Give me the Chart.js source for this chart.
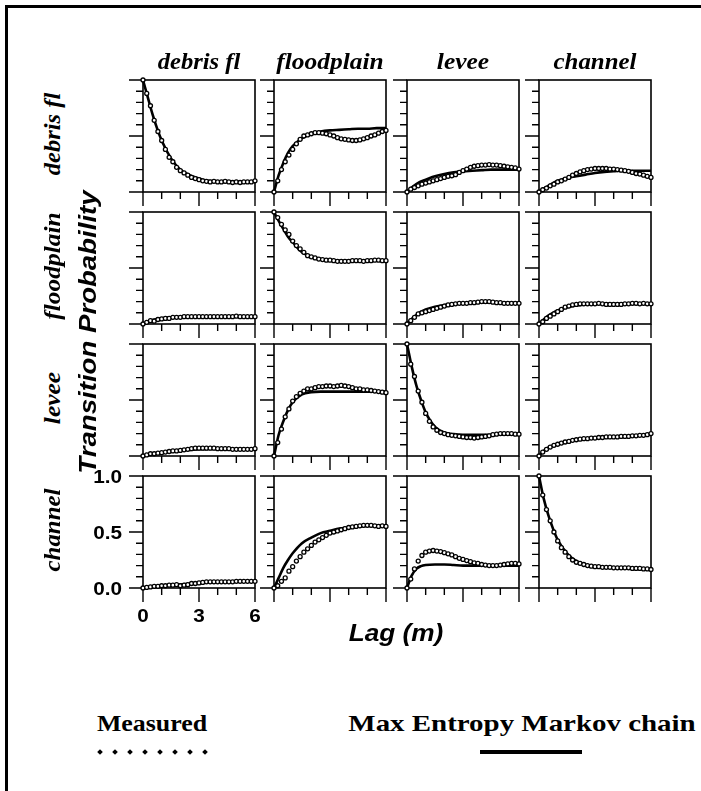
<!DOCTYPE html>
<html>
<head>
<meta charset="utf-8">
<script src="https://cdn.jsdelivr.net/npm/chart.js@4.4.1/dist/chart.umd.min.js"></script>
<style>
html, body { margin: 0; padding: 0; background: #fff; }
#page { position: relative; width: 701px; height: 791px; overflow: hidden; background: #fff; }
#frame { position: absolute; left: 5px; top: 5px; width: 720px; height: 800px; border-top: 3px solid #000; border-left: 3px solid #000; }
canvas { position: absolute; }
.lbl { position: absolute; white-space: nowrap; transform-origin: 0 0; line-height: 1; color: #000; }
.serif { font: italic bold 24px "Liberation Serif", "Times New Roman", serif; }
.sans { font: italic bold 24px "Liberation Sans", Arial, sans-serif; }
.leg { font: bold 24px "Liberation Serif", "Times New Roman", serif; }
.dot { position: absolute; width: 4px; height: 4px; background: #000; transform: rotate(45deg); }
</style>
</head>
<body>
<div id="page"><div id="frame"></div></div>
<script>
// facies, rows = from, columns = to
const facies = ['debris fl', 'floodplain', 'levee', 'channel'];

const lagMeasured = [0, 0.2, 0.4, 0.6, 0.8, 1, 1.2, 1.4, 1.6, 1.8, 2, 2.2, 2.4, 2.6, 2.8, 3,
  3.2, 3.4, 3.6, 3.8, 4, 4.2, 4.4, 4.6, 4.8, 5, 5.2, 5.4, 5.6, 5.8, 6];
const lagMarkov = [0, 0.25, 0.5, 0.75, 1, 1.5, 2, 2.5, 3, 3.5, 4, 4.5, 5, 5.5, 6];

const yTickValues = [0, 0.1, 0.2, 0.3, 0.4, 0.5, 0.6, 0.7, 0.8, 0.9, 1];
const yMajor = [0, 0.5, 1];
const xTickValues = [0, 1, 2, 3, 4, 5, 6];
const xMajor = [0, 3, 6];
const yTickLabels = ['0.0', '0.5', '1.0'];
const xTickLabels = ['0', '3', '6'];

// measured transition probabilities (to debris fl, floodplain, levee, channel)
const measuredFromDebris = [
  [1.0, 0.88, 0.77, 0.64, 0.54, 0.46, 0.38, 0.31, 0.27, 0.22, 0.19, 0.17, 0.15, 0.13, 0.12, 0.11, 0.10, 0.095, 0.09, 0.095, 0.09, 0.09, 0.095, 0.09, 0.085, 0.09, 0.085, 0.09, 0.09, 0.09, 0.10],
  [0, 0.10, 0.20, 0.27, 0.33, 0.38, 0.43, 0.47, 0.50, 0.51, 0.52, 0.53, 0.53, 0.525, 0.52, 0.51, 0.50, 0.485, 0.475, 0.47, 0.465, 0.46, 0.46, 0.465, 0.475, 0.485, 0.50, 0.51, 0.525, 0.54, 0.55],
  [0, 0.025, 0.04, 0.055, 0.07, 0.08, 0.09, 0.10, 0.11, 0.12, 0.13, 0.14, 0.145, 0.155, 0.175, 0.19, 0.205, 0.22, 0.23, 0.235, 0.24, 0.24, 0.245, 0.24, 0.24, 0.235, 0.23, 0.225, 0.22, 0.215, 0.205],
  [0, 0.02, 0.035, 0.055, 0.07, 0.09, 0.10, 0.115, 0.13, 0.15, 0.165, 0.18, 0.19, 0.20, 0.205, 0.21, 0.21, 0.21, 0.21, 0.205, 0.205, 0.20, 0.195, 0.19, 0.185, 0.175, 0.165, 0.16, 0.15, 0.14, 0.13]
];
const measuredFromFloodplain = [
  [0, 0.015, 0.03, 0.025, 0.04, 0.045, 0.05, 0.05, 0.06, 0.06, 0.06, 0.065, 0.065, 0.065, 0.065, 0.065, 0.065, 0.065, 0.065, 0.065, 0.065, 0.065, 0.065, 0.065, 0.065, 0.07, 0.065, 0.065, 0.065, 0.065, 0.065],
  [1.0, 0.95, 0.89, 0.84, 0.80, 0.74, 0.70, 0.67, 0.64, 0.61, 0.60, 0.59, 0.58, 0.575, 0.57, 0.57, 0.565, 0.56, 0.56, 0.56, 0.56, 0.565, 0.565, 0.565, 0.56, 0.565, 0.565, 0.57, 0.57, 0.565, 0.565],
  [0, 0.03, 0.06, 0.09, 0.10, 0.11, 0.12, 0.13, 0.14, 0.15, 0.16, 0.17, 0.175, 0.18, 0.185, 0.185, 0.185, 0.19, 0.19, 0.195, 0.20, 0.20, 0.20, 0.195, 0.19, 0.19, 0.185, 0.185, 0.185, 0.185, 0.185],
  [0, 0.02, 0.05, 0.07, 0.09, 0.11, 0.13, 0.15, 0.16, 0.17, 0.175, 0.18, 0.18, 0.18, 0.18, 0.18, 0.185, 0.18, 0.175, 0.175, 0.175, 0.175, 0.175, 0.18, 0.18, 0.185, 0.185, 0.18, 0.185, 0.18, 0.18]
];
const measuredFromLevee = [
  [0, 0.01, 0.02, 0.02, 0.025, 0.03, 0.035, 0.04, 0.045, 0.045, 0.05, 0.055, 0.06, 0.065, 0.07, 0.07, 0.07, 0.07, 0.07, 0.07, 0.065, 0.065, 0.065, 0.065, 0.06, 0.06, 0.06, 0.06, 0.06, 0.06, 0.065],
  [0, 0.12, 0.24, 0.35, 0.42, 0.49, 0.53, 0.56, 0.58, 0.60, 0.60, 0.61, 0.62, 0.62, 0.625, 0.625, 0.62, 0.625, 0.63, 0.625, 0.62, 0.61, 0.60, 0.60, 0.59, 0.59, 0.585, 0.58, 0.575, 0.57, 0.565],
  [1.0, 0.82, 0.71, 0.58, 0.48, 0.38, 0.31, 0.26, 0.23, 0.21, 0.20, 0.19, 0.185, 0.18, 0.175, 0.17, 0.165, 0.165, 0.16, 0.165, 0.17, 0.175, 0.18, 0.19, 0.195, 0.20, 0.20, 0.20, 0.20, 0.195, 0.195],
  [0, 0.035, 0.06, 0.08, 0.095, 0.105, 0.115, 0.125, 0.13, 0.14, 0.145, 0.15, 0.155, 0.155, 0.16, 0.16, 0.165, 0.165, 0.17, 0.17, 0.17, 0.17, 0.175, 0.175, 0.175, 0.18, 0.18, 0.185, 0.185, 0.19, 0.20]
];
const measuredFromChannel = [
  [0, 0.005, 0.01, 0.015, 0.015, 0.02, 0.02, 0.025, 0.025, 0.03, 0.02, 0.025, 0.03, 0.04, 0.04, 0.045, 0.05, 0.055, 0.055, 0.055, 0.055, 0.055, 0.055, 0.055, 0.055, 0.06, 0.06, 0.06, 0.06, 0.06, 0.06],
  [0, 0.02, 0.06, 0.09, 0.15, 0.19, 0.24, 0.28, 0.32, 0.35, 0.38, 0.41, 0.43, 0.45, 0.47, 0.49, 0.50, 0.51, 0.52, 0.53, 0.54, 0.545, 0.55, 0.555, 0.56, 0.56, 0.56, 0.555, 0.55, 0.555, 0.55],
  [0, 0.08, 0.17, 0.24, 0.29, 0.32, 0.33, 0.335, 0.33, 0.325, 0.315, 0.305, 0.295, 0.28, 0.265, 0.255, 0.245, 0.235, 0.225, 0.22, 0.21, 0.205, 0.20, 0.20, 0.20, 0.205, 0.21, 0.215, 0.22, 0.22, 0.215],
  [1.0, 0.83, 0.70, 0.60, 0.50, 0.42, 0.36, 0.32, 0.28, 0.25, 0.23, 0.22, 0.21, 0.20, 0.195, 0.19, 0.19, 0.185, 0.185, 0.185, 0.18, 0.18, 0.18, 0.18, 0.18, 0.175, 0.175, 0.175, 0.17, 0.17, 0.165]
];

// max entropy markov chain model
const markovFromDebris = [
  [1.0, 0.85, 0.70, 0.57, 0.46, 0.30, 0.20, 0.15, 0.12, 0.10, 0.095, 0.09, 0.09, 0.09, 0.09],
  [0, 0.15, 0.26, 0.35, 0.41, 0.48, 0.52, 0.54, 0.55, 0.555, 0.56, 0.565, 0.565, 0.57, 0.57],
  [0, 0.04, 0.07, 0.095, 0.11, 0.14, 0.16, 0.175, 0.185, 0.19, 0.195, 0.20, 0.20, 0.20, 0.20],
  [0, 0.03, 0.055, 0.08, 0.10, 0.125, 0.14, 0.155, 0.17, 0.18, 0.185, 0.19, 0.19, 0.19, 0.19]
];
const markovFromFloodplain = [
  [0, 0.02, 0.035, 0.045, 0.052, 0.06, 0.063, 0.065, 0.065, 0.065, 0.065, 0.065, 0.065, 0.065, 0.065],
  [1.0, 0.92, 0.85, 0.78, 0.73, 0.64, 0.60, 0.58, 0.57, 0.565, 0.565, 0.565, 0.565, 0.565, 0.565],
  [0, 0.045, 0.08, 0.11, 0.13, 0.155, 0.17, 0.18, 0.185, 0.19, 0.19, 0.19, 0.19, 0.19, 0.19],
  [0, 0.04, 0.075, 0.10, 0.12, 0.15, 0.165, 0.175, 0.18, 0.18, 0.18, 0.18, 0.18, 0.18, 0.18]
];
const markovFromLevee = [
  [0, 0.01, 0.02, 0.025, 0.03, 0.04, 0.05, 0.055, 0.06, 0.062, 0.063, 0.063, 0.063, 0.063, 0.063],
  [0, 0.19, 0.31, 0.41, 0.48, 0.55, 0.57, 0.575, 0.575, 0.575, 0.575, 0.575, 0.575, 0.575, 0.575],
  [1.0, 0.80, 0.63, 0.50, 0.39, 0.26, 0.21, 0.195, 0.19, 0.19, 0.19, 0.19, 0.19, 0.19, 0.19],
  [0, 0.045, 0.075, 0.095, 0.11, 0.13, 0.145, 0.155, 0.165, 0.17, 0.175, 0.178, 0.18, 0.185, 0.19]
];
const markovFromChannel = [
  [0, 0.005, 0.01, 0.015, 0.02, 0.025, 0.03, 0.038, 0.045, 0.05, 0.053, 0.056, 0.058, 0.06, 0.06],
  [0, 0.09, 0.18, 0.25, 0.31, 0.40, 0.45, 0.49, 0.51, 0.53, 0.54, 0.55, 0.555, 0.555, 0.555],
  [0, 0.11, 0.17, 0.195, 0.205, 0.21, 0.21, 0.205, 0.20, 0.20, 0.20, 0.20, 0.20, 0.20, 0.20],
  [1.0, 0.80, 0.65, 0.53, 0.43, 0.31, 0.24, 0.205, 0.19, 0.185, 0.18, 0.18, 0.175, 0.17, 0.165]
];

const measuredRows = [measuredFromDebris, measuredFromFloodplain, measuredFromLevee, measuredFromChannel];
const markovRows = [markovFromDebris, markovFromFloodplain, markovFromLevee, markovFromChannel];

// layout of the 4x4 grid
const colLeft = [143, 274, 407, 539];
const rowTop = [80, 212, 344, 476];
const box = 112;

const page = document.getElementById('page');

// box, outside ticks, and tick labels for the bottom-left panel
const framePlugin = {
  id: 'frame',
  beforeDatasetsDraw(chart, args, opts) {
    const { ctx, chartArea: a, scales: { x, y } } = chart;
    ctx.save();
    ctx.strokeStyle = '#000';
    ctx.lineWidth = 1.6;
    ctx.strokeRect(a.left, a.top, a.right - a.left, a.bottom - a.top);
    ctx.lineWidth = 1.4;
    ctx.beginPath();
    yTickValues.forEach(v => {
      const p = y.getPixelForValue(v);
      const len = yMajor.includes(v) ? 14 : 7;
      ctx.moveTo(a.left - len, p);
      ctx.lineTo(a.left, p);
    });
    xTickValues.forEach(v => {
      const p = x.getPixelForValue(v);
      const len = xMajor.includes(v) ? 14 : 7;
      ctx.moveTo(p, a.bottom);
      ctx.lineTo(p, a.bottom + len);
    });
    ctx.stroke();
    if (opts.labels) {
      ctx.fillStyle = '#000';
      ctx.font = 'bold 18px "Liberation Sans", Arial, sans-serif';
      ctx.textBaseline = 'alphabetic';
      ctx.textAlign = 'right';
      yTickLabels.forEach((t, i) => {
        const p = y.getPixelForValue(yMajor[i]);
        ctx.save();
        ctx.translate(a.left - 21, p + 6.5);
        ctx.scale(1.15, 1);
        ctx.fillText(t, 0, 0);
        ctx.restore();
      });
      ctx.textAlign = 'center';
      xTickLabels.forEach((t, i) => {
        const p = x.getPixelForValue(xMajor[i]);
        ctx.save();
        ctx.translate(p, a.bottom + 34);
        ctx.scale(1.15, 1);
        ctx.fillText(t, 0, 0);
        ctx.restore();
      });
    }
    ctx.restore();
  }
};

function makePanel(r, c) {
  const labels = (r === 3 && c === 0);
  const pad = labels ? { left: 56, right: 8, top: 8, bottom: 42 } : { left: 20, right: 8, top: 8, bottom: 20 };
  const cv = document.createElement('canvas');
  cv.width = pad.left + box + pad.right;
  cv.height = pad.top + box + pad.bottom;
  cv.style.left = (colLeft[c] - pad.left) + 'px';
  cv.style.top = (rowTop[r] - pad.top) + 'px';
  page.appendChild(cv);
  const meas = measuredRows[r][c];
  const mark = markovRows[r][c];
  new Chart(cv, {
    type: 'line',
    data: {
      datasets: [
        {
          label: 'Measured',
          data: lagMeasured.map((x, i) => ({ x, y: meas[i] })),
          showLine: false,
          pointRadius: 2,
          pointBorderWidth: 1.3,
          pointBorderColor: '#000',
          pointBackgroundColor: '#fff',
          clip: false
        },
        {
          label: 'Max Entropy Markov chain',
          data: lagMarkov.map((x, i) => ({ x, y: mark[i] })),
          borderColor: '#000',
          borderWidth: 2.6,
          pointRadius: 0,
          cubicInterpolationMode: 'monotone',
          clip: false
        }
      ]
    },
    options: {
      responsive: false,
      animation: false,
      devicePixelRatio: 1,
      layout: { padding: pad },
      plugins: { legend: { display: false }, tooltip: { enabled: false }, frame: { labels } },
      scales: {
        x: { type: 'linear', min: 0, max: 6, display: false },
        y: { type: 'linear', min: 0, max: 1, display: false }
      }
    },
    plugins: [framePlugin]
  });
}

for (let r = 0; r < 4; r++) for (let c = 0; c < 4; c++) makePanel(r, c);

// text placed by baseline centre, stretched to a target width
function addLabel(text, cls, x, y, rot, width) {
  const d = document.createElement('div');
  d.className = 'lbl ' + cls;
  d.textContent = text;
  page.appendChild(d);
  const s = width ? width / d.offsetWidth : 1;
  d.style.left = x + 'px';
  d.style.top = y + 'px';
  d.style.transform = `rotate(${rot}deg) scaleX(${s}) translate(-50%, -0.84em)`;
}

const titleWidths = [83, 107, 52, 83];
facies.forEach((f, i) => {
  addLabel(f, 'serif', colLeft[i] + box / 2, 67.5, 0, titleWidths[i]);
  addLabel(f, 'serif', 59, rowTop[i] + box / 2 - 2, -90, titleWidths[i]);
});
addLabel('Transition Probability', 'sans', 94, 331.5, -90, 283);
addLabel('Lag (m)', 'sans', 396, 639, 0, 95);
addLabel('Measured', 'leg', 152, 730, 0, 110);
addLabel('Max Entropy Markov chain', 'leg', 521.5, 730, 0, 347);

// legend keys
const legendDotX = [100, 115, 130, 145, 160, 175, 190, 205];
legendDotX.forEach(x => {
  const d = document.createElement('div');
  d.className = 'dot';
  d.style.left = (x - 2) + 'px';
  d.style.top = '750px';
  page.appendChild(d);
});
const key = document.createElement('div');
key.style.cssText = 'position:absolute;left:480px;top:750px;width:102px;height:4px;background:#000;';
page.appendChild(key);
</script>
</body>
</html>
